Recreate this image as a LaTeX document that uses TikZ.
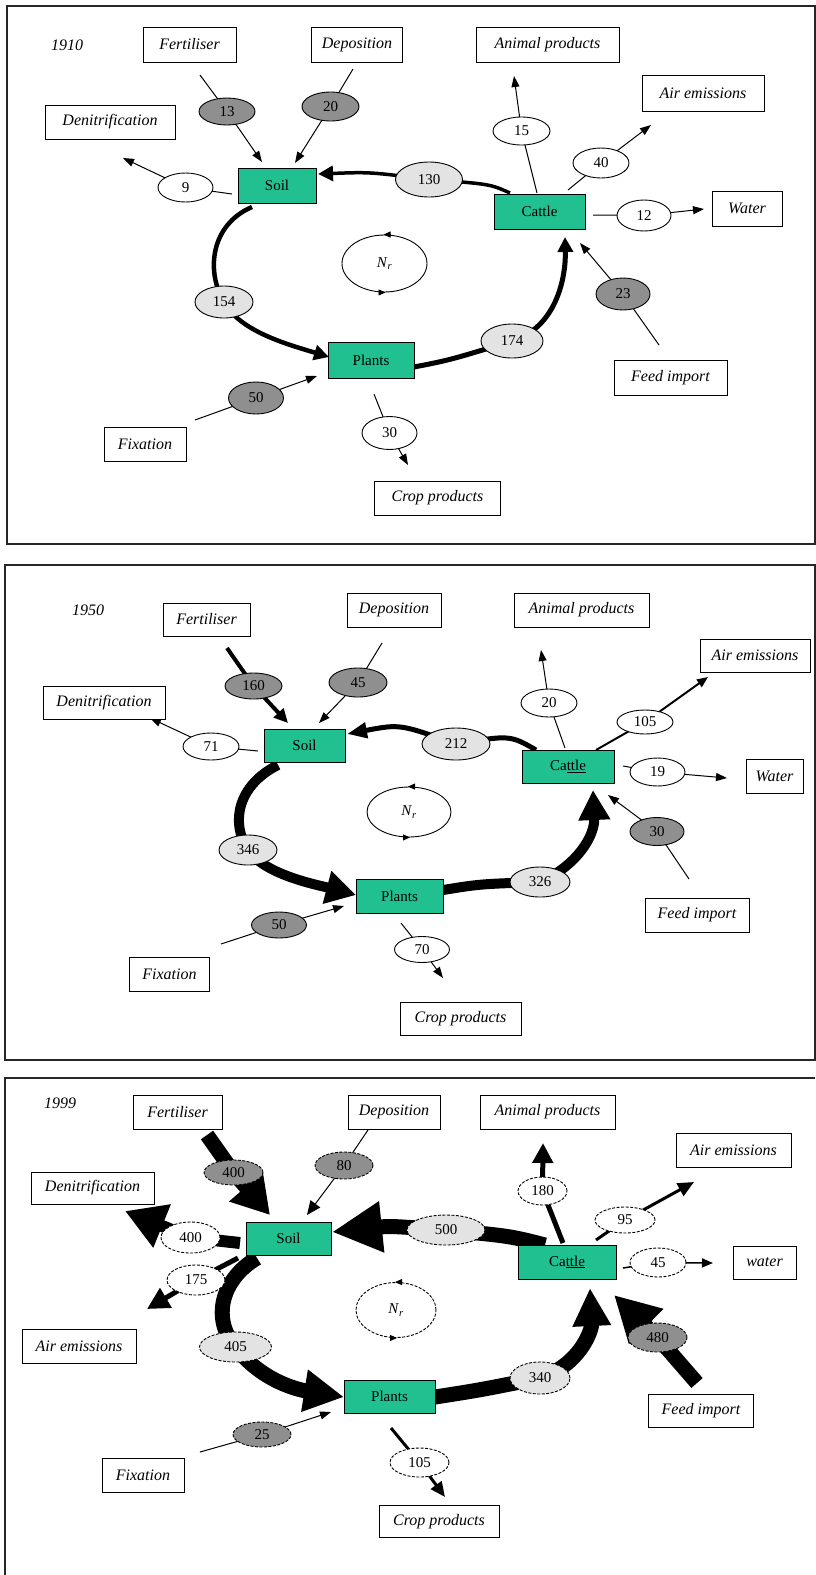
\documentclass[tikz,border=0pt]{standalone}
\usepackage{fontspec}
\setmainfont{Liberation Serif}
\usetikzlibrary{arrows.meta,shapes.geometric}
\pgfdeclarelayer{bg}
\pgfsetlayers{bg,main}
\definecolor{compc}{HTML}{20C090}
\definecolor{darkc}{HTML}{8F8F8F}
\definecolor{lightc}{HTML}{E3E3E3}
\newcommand\lblf{\fontsize{16}{16}\selectfont\itshape}
\newcommand\numf{\fontsize{15}{15}\selectfont}
\newcommand\compf{\fontsize{15}{15}\selectfont}
\newcommand\nrtext{\textit{N}\textsubscript{\textit{r}}}
\tikzset{
  lbl/.style={draw, line width=1pt, fill=white, font=\lblf, inner sep=0pt},
  comp/.style={draw, line width=1pt, fill=compc, font=\compf, inner sep=0pt},
  val/.style={ellipse, draw, line width=0.9pt, inner sep=0pt, font=\numf},
  vdark/.style={val, fill=darkc},
  vlight/.style={val, fill=lightc},
  vwhite/.style={val, fill=white},
  dsh/.style={dash pattern=on 3pt off 1.5pt},
  frame/.style={line width=1.5pt, draw=black!85},
  yr/.style={font=\lblf},
  nrnode/.style={ellipse, draw, line width=0.9pt, inner sep=0pt, font=\numf},
  fw/.style n args={3}{line width=#1, line join=round, -{Triangle[length=#2,width=#3]}},
  nrtip/.style={line width=0.9pt, -{Triangle[length=7pt,width=6pt]}},
}
\begin{document}
\begin{tikzpicture}[x=1pt,y=-1pt]
\useasboundingbox (0,0) rectangle (816,1575);
% ================= frames =================
\begin{pgfonlayer}{bg}
\fill[white] (0,0) rectangle (816,1575);
\draw[frame] (7,6) rectangle (815,544);
\draw[frame] (5,565) rectangle (815,1060);
\draw[frame] (815,1078) -- (5,1078) -- (5,1575);
\end{pgfonlayer}

% ================= PANEL 1910 =================
\node[yr] (y1) at (67,45) {1910};
\node[lbl, minimum width=93, minimum height=35] (fert1) at (189.5,44.5) {Fertiliser};
\node[lbl, minimum width=91, minimum height=35] (dep1) at (357,44.5) {Deposition};
\node[lbl, minimum width=143, minimum height=35] (ani1) at (547.5,44.5) {Animal products};
\node[lbl, minimum width=122, minimum height=36] (air1) at (703,93) {Air emissions};
\node[lbl, minimum width=130, minimum height=34] (den1) at (110,122) {Denitrification};
\node[lbl, minimum width=70, minimum height=35] (wat1) at (747,208.5) {Water};
\node[lbl, minimum width=113, minimum height=35] (feed1) at (670.5,377.5) {Feed import};
\node[lbl, minimum width=82, minimum height=34] (fix1) at (145,444.5) {Fixation};
\node[lbl, minimum width=126, minimum height=34] (crop1) at (437.5,498) {Crop products};
\node[comp, minimum width=78, minimum height=35] (soil1) at (277,185.5) {Soil};
\node[comp, minimum width=91, minimum height=35] (cat1) at (539.5,211.5) {Cattle};
\node[comp, minimum width=86, minimum height=36] (pla1) at (371,360) {Plants};
\node[vdark, minimum width=56, minimum height=27] (e13) at (227,111.5) {13};
\node[vdark, minimum width=57, minimum height=29] (e20) at (330.5,106.5) {20};
\node[vwhite, minimum width=55, minimum height=29] (e9) at (185.5,187.5) {9};
\node[vlight, minimum width=67, minimum height=35] (e130) at (429,179.5) {130};
\node[vwhite, minimum width=57, minimum height=28] (e15) at (521.5,131) {15};
\node[vwhite, minimum width=56, minimum height=30] (e40) at (601,163) {40};
\node[vwhite, minimum width=54, minimum height=31] (e12) at (644,215.5) {12};
\node[vdark, minimum width=54, minimum height=32] (e23) at (623,294) {23};
\node[vlight, minimum width=58, minimum height=32] (e154) at (224,302) {154};
\node[vlight, minimum width=62, minimum height=34] (e174) at (512,341) {174};
\node[vdark, minimum width=55, minimum height=32] (e50) at (256,398) {50};
\node[vwhite, minimum width=55, minimum height=33] (e30) at (389.5,433) {30};
\node[nrnode, minimum width=85, minimum height=57] (nr1) at (384.5,263.5) {\nrtext};
\draw[nrtip] (nr1.north) ++(5,0) -- ++(-6,0);
\draw[nrtip] (nr1.south) ++(-5,0) -- ++(6,0);

\coordinate (f1a) at (200,75);  \coordinate (f1b) at (262,162);
\coordinate (d1a) at (353,69);  \coordinate (d1b) at (295,163);
\coordinate (n1a) at (232,194); \coordinate (n1b) at (123,158);
\coordinate (a1a) at (537,193); \coordinate (a1b) at (514,76);
\coordinate (r1a) at (568,190); \coordinate (r1b) at (651,125);
\coordinate (w1a) at (593,215); \coordinate (w1b) at (704,209);
\coordinate (i1a) at (659,345); \coordinate (i1b) at (580,243);
\coordinate (x1a) at (195,420); \coordinate (x1b) at (317,376);
\coordinate (c1a) at (374,394); \coordinate (c1b) at (408,465);
\coordinate (k1a) at (510,193); \coordinate (k1b) at (318,174);
\coordinate (s1a) at (252,207); \coordinate (s1b) at (329,357);
\coordinate (p1a) at (414,367); \coordinate (p1b) at (565,237);

\begin{pgfonlayer}{bg}
\draw[fw={1pt}{11pt}{8pt}] (f1a) -- (e13.center) -- (f1b);
\draw[fw={1pt}{11pt}{8pt}] (d1a) -- (e20.center) -- (d1b);
\draw[fw={1pt}{11pt}{8pt}] (n1a) -- (e9.center) -- (n1b);
\draw[fw={1pt}{11pt}{8pt}] (a1a) -- (e15.center) -- (a1b);
\draw[fw={1pt}{11pt}{8pt}] (r1a) -- (e40.center) -- (r1b);
\draw[fw={1pt}{11pt}{8pt}] (w1a) -- (e12.center) -- (w1b);
\draw[fw={1pt}{11pt}{8pt}] (i1a) -- (e23.center) -- (i1b);
\draw[fw={1pt}{11pt}{8pt}] (x1a) -- (e50.center) -- (x1b);
\draw[fw={1pt}{11pt}{8pt}] (c1a) -- (e30.center) -- (c1b);
\draw[fw={3.5pt}{15pt}{15pt}] (k1a) .. controls (490,184) .. (e130.center) .. controls (370,172) .. (k1b);
\draw[fw={4.5pt}{15pt}{15pt}] (s1a) .. controls (210,225) and (206,272) .. (e154.center) .. controls (240,332) and (290,345) .. (s1b);
\draw[fw={5pt}{15pt}{15pt}] (p1a) .. controls (450,360) .. (e174.center) .. controls (555,328) and (566,280) .. (p1b);
\end{pgfonlayer}

% ================= PANEL 1950 =================
\node[yr] (y2) at (88,610) {1950};
\node[lbl, minimum width=87, minimum height=33] (fert2) at (206.5,619.5) {Fertiliser};
\node[lbl, minimum width=94, minimum height=34] (dep2) at (394,610) {Deposition};
\node[lbl, minimum width=135, minimum height=34] (ani2) at (581.5,610) {Animal products};
\node[lbl, minimum width=110, minimum height=33] (air2) at (755,655.5) {Air emissions};
\node[lbl, minimum width=122, minimum height=33] (den2) at (104,702.5) {Denitrification};
\node[lbl, minimum width=57, minimum height=34] (wat2) at (774.5,776) {Water};
\node[lbl, minimum width=104, minimum height=34] (feed2) at (697,915) {Feed import};
\node[lbl, minimum width=80, minimum height=34] (fix2) at (169.5,974) {Fixation};
\node[lbl, minimum width=121, minimum height=33] (crop2) at (460.5,1018.5) {Crop products};
\node[comp, minimum width=81, minimum height=33] (soil2) at (304.5,745.5) {Soil};
\node[comp, minimum width=92, minimum height=33] (cat2) at (568,766.5) {Ca\underline{ttle}};
\node[comp, minimum width=87, minimum height=34] (pla2) at (399.5,896) {Plants};
\node[vdark, minimum width=57, minimum height=26] (e160) at (253.5,686) {160};
\node[vdark, minimum width=58, minimum height=29] (e45) at (358,682.5) {45};
\node[vwhite, minimum width=56, minimum height=27] (e71) at (211,746.5) {71};
\node[vlight, minimum width=68, minimum height=32] (e212) at (456,744) {212};
\node[vwhite, minimum width=56, minimum height=28] (e20b) at (549,703) {20};
\node[vwhite, minimum width=56, minimum height=24] (e105) at (645,722) {105};
\node[vwhite, minimum width=55, minimum height=28] (e19) at (657.5,772) {19};
\node[vlight, minimum width=58, minimum height=30] (e346) at (248,850) {346};
\node[vlight, minimum width=60, minimum height=30] (e326) at (540,882) {326};
\node[vdark, minimum width=54, minimum height=28] (e30b) at (657,831.5) {30};
\node[vdark, minimum width=55, minimum height=26] (e50b) at (279,925) {50};
\node[vwhite, minimum width=55, minimum height=26] (e70) at (422,949.5) {70};
\node[nrnode, minimum width=84, minimum height=50] (nr2) at (409,812) {\nrtext};
\draw[nrtip] (nr2.north) ++(5,0) -- ++(-6,0);
\draw[nrtip] (nr2.south) ++(-5,0) -- ++(6,0);

\coordinate (f2a) at (227,648); \coordinate (f2b) at (288,723);
\coordinate (d2a) at (382,643); \coordinate (d2b) at (319,723);
\coordinate (n2a) at (258,751); \coordinate (n2b) at (150,718);
\coordinate (a2a) at (565,748); \coordinate (a2b) at (541,650);
\coordinate (r2a) at (596,750); \coordinate (r2b) at (708,677);
\coordinate (w2a) at (623,766); \coordinate (w2b) at (727,778);
\coordinate (i2a) at (689,879); \coordinate (i2b) at (608,795);
\coordinate (x2a) at (221,944); \coordinate (x2b) at (344,906);
\coordinate (c2a) at (401,923); \coordinate (c2b) at (443,978);
\coordinate (k2a) at (536,750); \coordinate (k2b) at (347,734);
\coordinate (s2a) at (278,765); \coordinate (s2b) at (356,895);
\coordinate (p2a) at (443,890); \coordinate (p2b) at (593,790);

\begin{pgfonlayer}{bg}
\draw[fw={4pt}{14pt}{13pt}] (f2a) -- (e160.center) -- (f2b);
\draw[fw={1pt}{11pt}{8pt}] (d2a) -- (e45.center) -- (d2b);
\draw[fw={1pt}{11pt}{8pt}] (n2a) -- (e71.center) -- (n2b);
\draw[fw={1pt}{11pt}{8pt}] (a2a) -- (e20b.center) -- (a2b);
\draw[fw={2pt}{11pt}{9pt}] (r2a) -- (e105.center) -- (r2b);
\draw[fw={1pt}{11pt}{8pt}] (w2a) -- (e19.center) -- (w2b);
\draw[fw={1pt}{11pt}{8pt}] (i2a) -- (e30b.center) -- (i2b);
\draw[fw={1pt}{11pt}{8pt}] (x2a) -- (e50b.center) -- (x2b);
\draw[fw={1pt}{11pt}{8pt}] (c2a) -- (e70.center) -- (c2b);
\draw[fw={5pt}{20pt}{15pt}] (k2a) .. controls (510,735) .. (e212.center) .. controls (400,724) .. (k2b);
\draw[fw={10pt}{30pt}{32pt}] (s2a) .. controls (238,785) and (230,822) .. (e346.center) .. controls (265,875) and (318,885) .. (s2b);
\draw[fw={10pt}{30pt}{30pt}] (p2a) .. controls (480,884) .. (e326.center) .. controls (578,865) and (595,835) .. (p2b);
\end{pgfonlayer}

% ================= PANEL 1999 =================
\node[yr] (y3) at (60,1103) {1999};
\node[lbl, minimum width=89, minimum height=34] (fert3) at (177.5,1112) {Fertiliser};
\node[lbl, minimum width=92, minimum height=34] (dep3) at (394,1112) {Deposition};
\node[lbl, minimum width=135, minimum height=34] (ani3) at (547.5,1112) {Animal products};
\node[lbl, minimum width=115, minimum height=34] (air3r) at (733.5,1150) {Air emissions};
\node[lbl, minimum width=123, minimum height=32] (den3) at (92.5,1188) {Denitrification};
\node[lbl, minimum width=63, minimum height=33] (wat3) at (764.5,1262.5) {water};
\node[lbl, minimum width=114, minimum height=34] (air3l) at (79,1346) {Air emissions};
\node[lbl, minimum width=105, minimum height=33] (feed3) at (701,1411) {Feed import};
\node[lbl, minimum width=82, minimum height=34] (fix3) at (143,1475) {Fixation};
\node[lbl, minimum width=120, minimum height=32] (crop3) at (439,1521.5) {Crop products};
\node[comp, minimum width=85, minimum height=33] (soil3) at (288.5,1238.5) {Soil};
\node[comp, minimum width=98, minimum height=34] (cat3) at (567,1262) {Ca\underline{ttle}};
\node[comp, minimum width=91, minimum height=33] (pla3) at (389.5,1396.5) {Plants};
\node[vdark, dsh, minimum width=59, minimum height=25] (e400a) at (233.5,1172.5) {400};
\node[vdark, dsh, minimum width=58, minimum height=27] (e80) at (344,1165.5) {80};
\node[vwhite, dsh, minimum width=59, minimum height=31] (e400b) at (190.5,1237.5) {400};
\node[vwhite, dsh, minimum width=58, minimum height=30] (e175) at (196,1280) {175};
\node[vlight, dsh, minimum width=72, minimum height=30] (e405) at (235.5,1347) {405};
\node[vlight, dsh, minimum width=78, minimum height=30] (e500) at (446,1230) {500};
\node[vwhite, dsh, minimum width=49, minimum height=28] (e180) at (542.5,1191) {180};
\node[vwhite, dsh, minimum width=60, minimum height=26] (e95) at (625,1220) {95};
\node[vwhite, dsh, minimum width=56, minimum height=29] (e45c) at (658,1262.5) {45};
\node[vdark, dsh, minimum width=59, minimum height=29] (e480) at (657.5,1337.5) {480};
\node[vlight, dsh, minimum width=60, minimum height=32] (e340) at (540,1378) {340};
\node[vdark, dsh, minimum width=58, minimum height=25] (e25) at (262,1434.5) {25};
\node[vwhite, dsh, minimum width=59, minimum height=29] (e105c) at (419.5,1462.5) {105};
\node[nrnode, dsh, minimum width=80, minimum height=55] (nr3) at (396,1310) {\nrtext};
\draw[nrtip] (nr3.north) ++(5,0) -- ++(-6,0);
\draw[nrtip] (nr3.south) ++(-5,0) -- ++(6,0);

\coordinate (f3a) at (207,1135); \coordinate (f3b) at (270,1215);
\coordinate (d3a) at (368,1130); \coordinate (d3b) at (307,1215);
\coordinate (n3a) at (240,1243); \coordinate (n3b) at (125,1211);
\coordinate (q3a) at (238,1258); \coordinate (q3b) at (147,1309);
\coordinate (a3a) at (563,1243); \coordinate (a3b) at (543,1143);
\coordinate (r3a) at (596,1240); \coordinate (r3b) at (694,1182);
\coordinate (w3a) at (623,1268); \coordinate (w3b) at (713,1263);
\coordinate (i3a) at (697,1383); \coordinate (i3b) at (614,1295);
\coordinate (x3a) at (200,1452); \coordinate (x3b) at (331,1412);
\coordinate (c3a) at (391,1428); \coordinate (c3b) at (445,1497);
\coordinate (k3a) at (545,1245); \coordinate (k3b) at (332,1232);
\coordinate (s3a) at (257,1258); \coordinate (s3b) at (344,1397);
\coordinate (p3a) at (435,1397); \coordinate (p3b) at (590,1288);

\begin{pgfonlayer}{bg}
\draw[fw={15pt}{37pt}{42pt}] (f3a) -- (e400a.center) -- (f3b);
\draw[fw={1pt}{14pt}{12pt}] (d3a) -- (e80.center) -- (d3b);
\draw[fw={12pt}{40pt}{44pt}] (n3a) -- (e400b.center) -- (n3b);
\draw[fw={5pt}{22pt}{22pt}] (q3a) -- (e175.center) -- (q3b);
\draw[fw={5pt}{20pt}{20pt}] (a3a) -- (e180.center) -- (a3b);
\draw[fw={3pt}{16pt}{14pt}] (r3a) -- (e95.center) -- (r3b);
\draw[fw={1.5pt}{11pt}{9pt}] (w3a) -- (e45c.center) -- (w3b);
\draw[fw={15pt}{45pt}{46pt}] (i3a) -- (e480.center) -- (i3b);
\draw[fw={1pt}{11pt}{8pt}] (x3a) -- (e25.center) -- (x3b);
\draw[fw={3pt}{15pt}{13pt}] (c3a) -- (e105c.center) -- (c3b);
\draw[fw={15pt}{50pt}{48pt}] (k3a) .. controls (510,1236) .. (e500.center) .. controls (390,1226) .. (k3b);
\draw[fw={15pt}{40pt}{40pt}] (s3a) .. controls (220,1280) and (212,1320) .. (e405.center) .. controls (262,1382) and (300,1390) .. (s3b);
\draw[fw={15pt}{38pt}{36pt}] (p3a) .. controls (480,1390) .. (e340.center) .. controls (580,1365) and (592,1330) .. (p3b);
\end{pgfonlayer}
\end{tikzpicture}
\end{document}
